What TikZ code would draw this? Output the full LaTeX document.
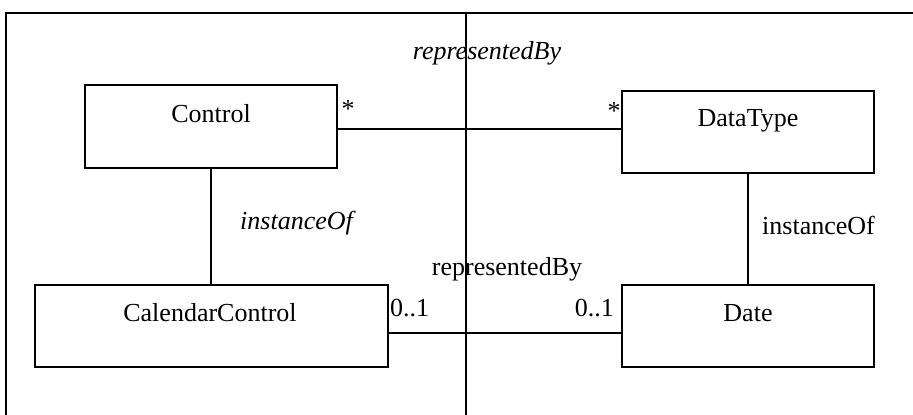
\documentclass[tikz,border=0pt]{standalone}
\usepackage{fontspec}
\setmainfont{Liberation Serif}
\begin{document}
\begin{tikzpicture}[x=1pt,y=-1pt,
  box/.style={draw, line width=1.3pt, inner sep=0pt, rectangle},
  lbl/.style={font=\fontsize{26}{30}\selectfont, inner sep=0pt},
  ilbl/.style={lbl, font=\fontsize{26}{30}\selectfont\itshape},
  ln/.style={line width=1.3pt}]
\useasboundingbox (0,0) rectangle (913,415);
% frame
\draw[ln] (5,13) -- (913,13);
\draw[ln] (6,13) -- (6,415);
\draw[ln] (466,13) -- (466,415);
% boxes
\node[box, minimum width=252pt, minimum height=83pt] (Control) at (211,126.5) {};
\node[box, minimum width=252pt, minimum height=82pt] (DataType) at (748,132) {};
\node[box, minimum width=353pt, minimum height=82pt] (CalendarControl) at (211.5,326) {};
\node[box, minimum width=252pt, minimum height=82pt] (Date) at (748,326) {};
% box labels
\node[lbl, anchor=base] (tControl) at (211,122) {Control};
\node[lbl, anchor=base] (tDataType) at (748,126) {DataType};
\node[lbl, anchor=base] (tCalendarControl) at (210,321) {CalendarControl};
\node[lbl, anchor=base] (tDate) at (748,321) {Date};
% connectors
\draw[ln] (Control.east |- 0,129) -- (DataType.west |- 0,129);
\draw[ln] (Control.south) -- (Control.south |- CalendarControl.north);
\draw[ln] (DataType.south) -- (DataType.south |- Date.north);
\draw[ln] (CalendarControl.east |- 0,333) -- (Date.west |- 0,333);
% connector labels
\node[ilbl, anchor=base] (rep1) at (487,59) {representedBy};
\node[lbl, anchor=base] (rep2) at (507,275) {representedBy};
\node[ilbl, anchor=base west] (inst1) at (240,229) {instanceOf};
\node[lbl, anchor=base west] (inst2) at (762,234) {instanceOf};
\node[lbl, anchor=base] (m1) at (348,117) {*};
\node[lbl, anchor=base] (m2) at (614,119) {*};
\node[lbl, anchor=base west] (m3) at (390,316) {0..1};
\node[lbl, anchor=base east] (m4) at (614,316) {0..1};
\end{tikzpicture}
\end{document}
